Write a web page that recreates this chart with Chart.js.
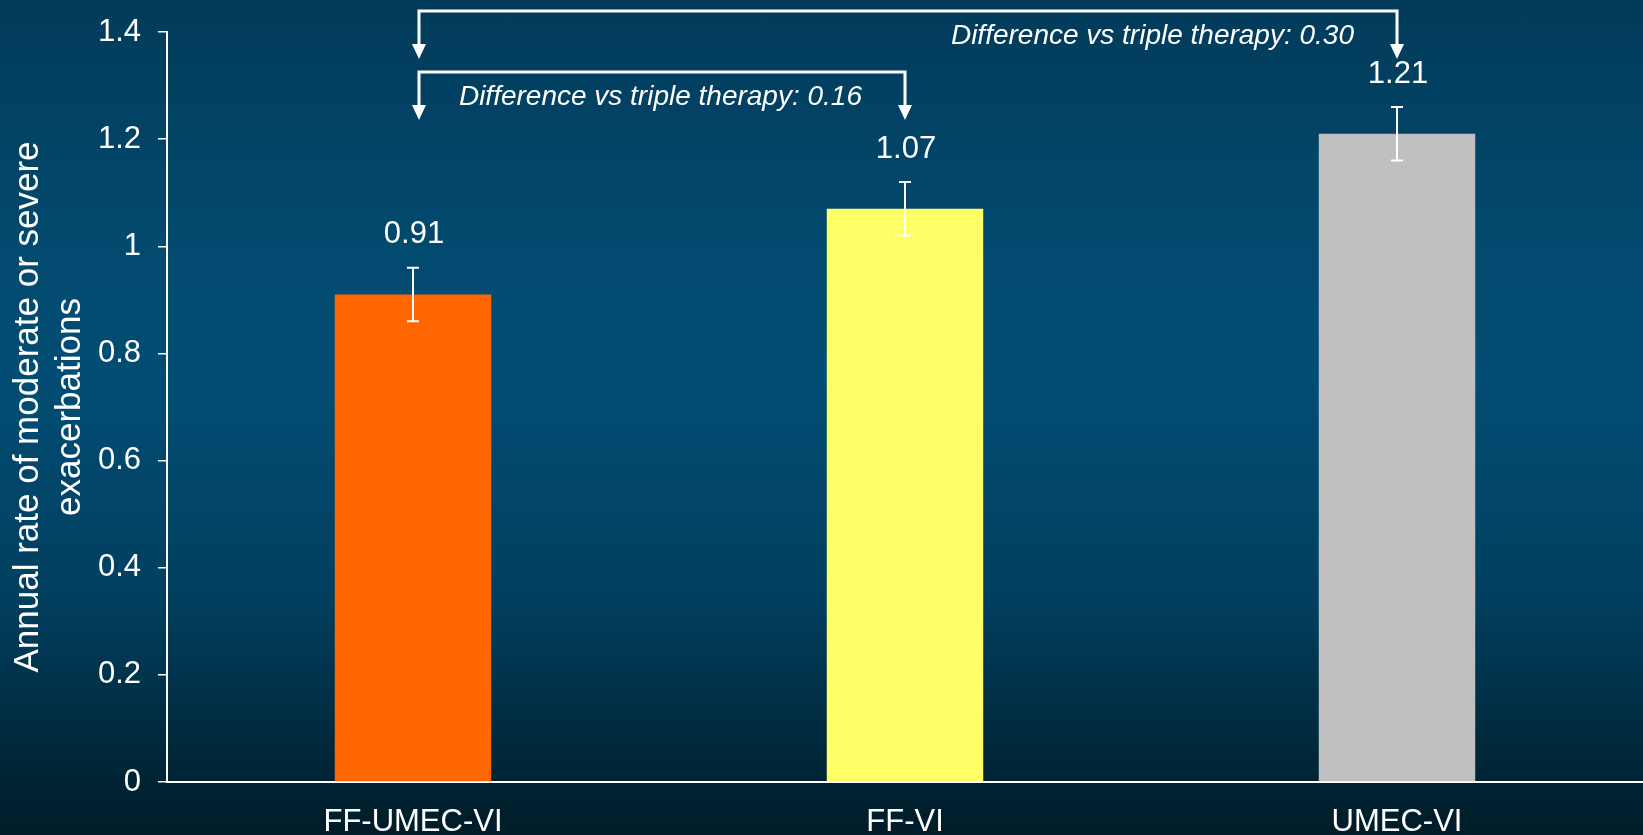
<!DOCTYPE html>
<html>
<head>
<meta charset="utf-8">
<script src="https://cdn.jsdelivr.net/npm/chart.js@4.4.1/dist/chart.umd.min.js"></script>
<style>
  html, body { margin: 0; padding: 0; }
  #wrap {
    width: 1643px; height: 835px; position: relative;
    background: linear-gradient(to bottom, #023b5a 0%, #024a6f 30%, #024d74 45%, #013f5f 72%, #00283a 90%, #001c29 100%);
  }
</style>
</head>
<body>
<div id="wrap"><canvas id="chart" width="1643" height="835"></canvas></div>
<script>
// Annual rate of moderate or severe exacerbations by treatment arm
const categories = ['FF-UMEC-VI', 'FF-VI', 'UMEC-VI'];
const rates = [0.91, 1.07, 1.21];
const ciLow = [0.86, 1.02, 1.16];
const ciHigh = [0.96, 1.12, 1.26];
const barColors = ['#ff6600', '#ffff66', '#c0c0c0'];
const yTickValues = [0, 0.2, 0.4, 0.6, 0.8, 1, 1.2, 1.4];
const yTickLabels = ['0', '0.2', '0.4', '0.6', '0.8', '1', '1.2', '1.4'];
const yTitle = ['Annual rate of moderate or severe', 'exacerbations'];
// comparisons against triple therapy (first category)
const compFrom = [0, 0];
const compTo = [2, 1];
const compLabels = ['Difference vs triple therapy: 0.30', 'Difference vs triple therapy: 0.16'];

const FONT = '"Liberation Sans", Arial, Helvetica, sans-serif';

function arrowDown(ctx, x, tipY) {
  ctx.beginPath();
  ctx.moveTo(x - 7, tipY - 15);
  ctx.lineTo(x + 7, tipY - 15);
  ctx.lineTo(x, tipY);
  ctx.closePath();
  ctx.fill();
}

const annotations = {
  id: 'annotations',
  afterDatasetsDraw(chart) {
    const ctx = chart.ctx;
    const x = chart.scales.x, y = chart.scales.y;
    ctx.save();
    ctx.strokeStyle = '#ffffff';
    ctx.fillStyle = '#ffffff';

    // error bars
    ctx.lineWidth = 2;
    rates.forEach((v, i) => {
      const cx = x.getPixelForValue(i);
      const yl = y.getPixelForValue(ciLow[i]);
      const yh = y.getPixelForValue(ciHigh[i]);
      ctx.beginPath();
      ctx.moveTo(cx, yl); ctx.lineTo(cx, yh);
      ctx.moveTo(cx - 6, yl); ctx.lineTo(cx + 6, yl);
      ctx.moveTo(cx - 6, yh); ctx.lineTo(cx + 6, yh);
      ctx.stroke();
    });

    // value labels
    ctx.font = '31px ' + FONT;
    ctx.textAlign = 'center';
    ctx.textBaseline = 'middle';
    rates.forEach((v, i) => {
      const cx = x.getPixelForValue(i);
      ctx.fillText(v.toFixed(2), cx + 1, y.getPixelForValue(ciHigh[i]) - 33);
    });

    // comparison brackets
    const top = chart.chartArea.top;
    const levels = [top - 21, top + 40];
    ctx.lineWidth = 3;
    ctx.font = 'italic 28px ' + FONT;
    ctx.textAlign = 'right';
    compLabels.forEach((label, k) => {
      const x0 = x.getPixelForValue(compFrom[k]) + 6;
      const x1 = x.getPixelForValue(compTo[k]);
      const h = levels[k];
      const tip = h + 48;
      ctx.beginPath();
      ctx.moveTo(x0, tip - 14);
      ctx.lineTo(x0, h);
      ctx.lineTo(x1, h);
      ctx.lineTo(x1, tip - 14);
      ctx.stroke();
      arrowDown(ctx, x0, tip);
      arrowDown(ctx, x1, tip);
      ctx.fillText(label, x1 - 43, h + 25);
    });
    ctx.restore();
  }
};

new Chart(document.getElementById('chart'), {
  type: 'bar',
  data: {
    labels: categories,
    datasets: [{
      data: rates,
      backgroundColor: barColors,
      borderWidth: 0,
      barPercentage: 0.318,
      categoryPercentage: 1
    }]
  },
  options: {
    responsive: false,
    animation: false,
    layout: { padding: { top: 32, right: 0, bottom: 0, left: 0 } },
    plugins: { legend: { display: false }, tooltip: { enabled: false } },
    scales: {
      x: {
        grid: { display: false, drawTicks: false },
        border: { display: true, color: '#ffffff', width: 2 },
        ticks: {
          color: '#ffffff', font: { family: FONT, size: 31 },
          padding: 22, maxRotation: 0, autoSkip: false
        },
        afterFit(scale) { scale.height = 53; }
      },
      y: {
        min: 0, max: 1.4,
        afterBuildTicks(scale) { scale.ticks = yTickValues.map(v => ({ value: v })); },
        grid: { drawOnChartArea: false, drawTicks: true, tickLength: 9, color: '#ffffff', lineWidth: 1.5 },
        border: { display: true, color: '#ffffff', width: 2 },
        ticks: {
          color: '#ffffff', font: { family: FONT, size: 31 }, padding: 17,
          callback(value) {
            const i = yTickValues.indexOf(value);
            return i >= 0 ? yTickLabels[i] : '';
          }
        },
        title: {
          display: true, text: yTitle, color: '#ffffff',
          font: { family: FONT, size: 35, lineHeight: 1.2 },
          padding: { top: 7, bottom: 0 }
        },
        afterFit(scale) {
          scale.width = 167;
          scale.paddingTop = 0;
          scale.paddingBottom = 0;
        }
      }
    }
  },
  plugins: [annotations]
});
</script>
</body>
</html>
